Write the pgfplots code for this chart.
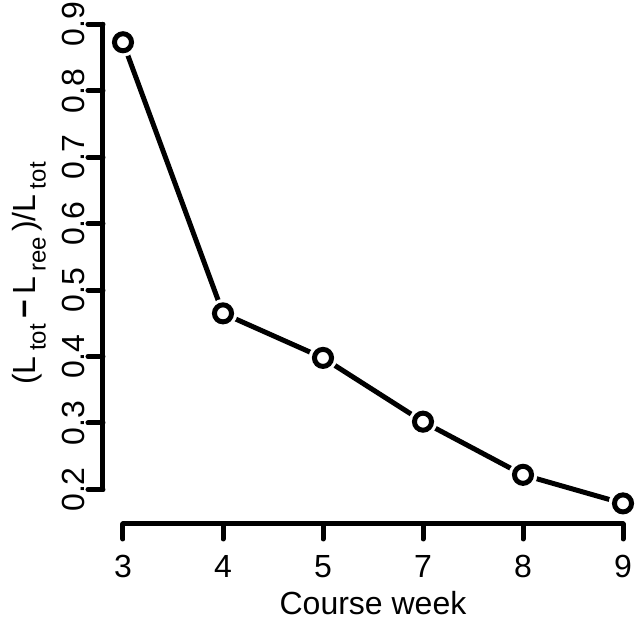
\documentclass[border=0pt]{standalone}
\usepackage{pgfplots}
\pgfplotsset{compat=1.18}
\usepackage{fontspec}
\setmainfont{Liberation Sans}
\newcommand{\sub}[1]{\raisebox{-0.32em}{\fontsize{18}{18}\selectfont #1}}
\begin{document}
\fontsize{24}{28.8}\selectfont
\begin{tikzpicture}
\begin{axis}[
  scale only axis,
  width=405pt, height=375.75pt,
  xmin=-0.2, xmax=5.2, ymin=0.148, ymax=0.902,
  axis x line*=bottom, axis y line*=left,
  axis line style={draw=none},
  xtick={0,1,2,3,4,5}, xticklabels={3,4,5,7,8,9},
  ytick={0.2,0.3,0.4,0.5,0.6,0.7,0.8,0.9},
  yticklabels={0.2,0.3,0.4,0.5,0.6,0.7,0.8,0.9},
  /pgf/number format/assume math mode=true,
  tick align=outside,
  major tick length=11.25pt,
  tick style={line width=3.75pt, black, line cap=round},
  xticklabel style={anchor=north, inner sep=0pt, yshift=-12pt, font=\fontsize{24}{28.8}\selectfont},
  yticklabel style={rotate=90, anchor=south, inner sep=0pt, yshift=2pt, font=\fontsize{24}{28.8}\selectfont},
  xlabel={Course week},
  ylabel={(L\,\sub{tot}\,\textbf{−}\,L\,\sub{ree}\,)/L\,\sub{tot}},
  xlabel style={at={(axis description cs:0.5,0)}, anchor=north, inner sep=0pt, yshift=-50.25pt, font=\fontsize{24}{28.8}\selectfont},
  ylabel style={at={(axis description cs:0,0.5)}, anchor=north, inner sep=0pt, yshift=68.25pt, font=\fontsize{24}{28.8}\selectfont},
  clip=false,
]
\addplot[line width=3.75pt, black, line join=round, no marks] coordinates {
  (0,0.873) (1,0.465) (2,0.398) (3,0.302) (4,0.222) (5,0.179)
};
\addplot[only marks, white, mark=*, mark size=10.5pt, mark options={fill=white, draw=white}] coordinates {
  (0,0.873) (1,0.465) (2,0.398) (3,0.302) (4,0.222) (5,0.179)
};
\addplot[only marks, black, mark=*, mark size=6.4pt, mark options={fill=white, draw=black, line width=3.75pt}] coordinates {
  (0,0.873) (1,0.465) (2,0.398) (3,0.302) (4,0.222) (5,0.179)
};
\draw[line width=3.75pt, line cap=round] (axis cs:0,0.148) -- (axis cs:5,0.148);
\draw[line width=3.75pt, line cap=round] (axis cs:-0.2,0.2) -- (axis cs:-0.2,0.9);
\end{axis}
\pgfresetboundingbox
\useasboundingbox (-77.25pt,-74.25pt) rectangle (404.25pt,393pt);
\end{tikzpicture}
\end{document}
